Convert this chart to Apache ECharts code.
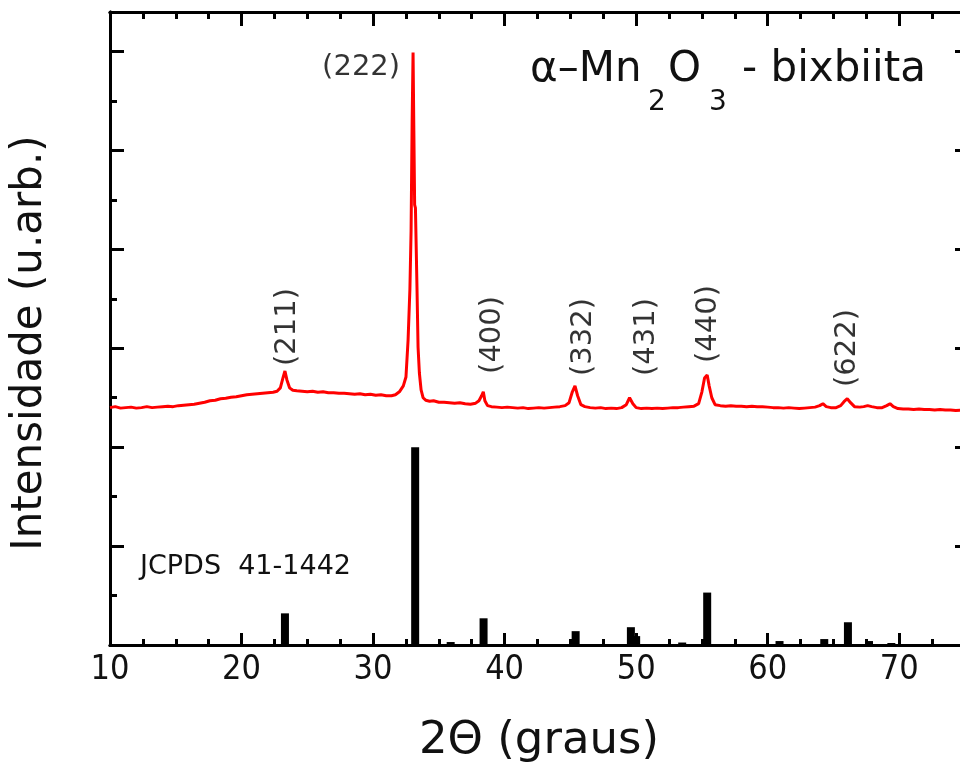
<!DOCTYPE html>
<html><head><meta charset="utf-8">
<script src="https://cdn.jsdelivr.net/npm/echarts@6/dist/echarts.min.js"></script>
<style>html,body{margin:0;padding:0;background:#fff}#c{width:960px;height:765px}</style>
</head><body><div id="c"></div>
<script>
// Measured XRD pattern (2-theta in degrees, intensity in arbitrary units)
const xrdPattern = [
[10.0,2.40],[10.4,2.41],[10.8,2.395],[11.2,2.40],[11.6,2.405],[12.0,2.395],[12.4,2.40],[12.8,2.41],
[13.2,2.40],[13.6,2.405],[14.0,2.41],[14.4,2.415],[14.8,2.41],[15.2,2.42],[15.6,2.425],[16.0,2.43],
[16.4,2.435],[16.8,2.445],[17.2,2.455],[17.6,2.47],[18.0,2.475],[18.4,2.49],[18.8,2.495],[19.2,2.505],
[19.6,2.51],[20.0,2.52],[20.4,2.53],[20.8,2.535],[21.2,2.54],[21.6,2.545],[22.0,2.55],[22.4,2.555],
[22.7,2.565],[22.95,2.60],[23.15,2.70],[23.3,2.77],[23.45,2.68],[23.65,2.60],[23.9,2.575],[24.2,2.57],
[24.6,2.565],[25.0,2.56],[25.4,2.565],[25.8,2.555],[26.2,2.56],[26.6,2.55],[27.0,2.55],[27.4,2.545],
[27.8,2.545],[28.2,2.54],[28.6,2.535],[29.0,2.54],[29.4,2.53],[29.8,2.535],[30.2,2.525],[30.6,2.53],
[31.0,2.52],[31.4,2.52],[31.7,2.53],[32.0,2.56],[32.3,2.62],[32.5,2.71],[32.66,3.08],[32.8,3.6],
[32.89,4.19],[32.97,5.3],[33.04,5.99],[33.1,5.2],[33.16,4.45],[33.22,4.42],[33.28,4.40],[33.34,3.6],
[33.42,3.01],[33.52,2.75],[33.65,2.58],[33.8,2.50],[34.0,2.475],[34.3,2.465],[34.6,2.47],[35.0,2.455],
[35.4,2.455],[35.8,2.45],[36.2,2.445],[36.6,2.45],[37.0,2.44],[37.4,2.435],[37.8,2.445],[38.05,2.47],
[38.25,2.52],[38.38,2.56],[38.5,2.47],[38.7,2.42],[39.0,2.41],[39.4,2.405],[39.8,2.40],[40.2,2.405],
[40.6,2.40],[41.0,2.395],[41.4,2.40],[41.8,2.39],[42.2,2.395],[42.6,2.40],[43.0,2.395],[43.4,2.40],
[43.8,2.405],[44.2,2.41],[44.6,2.42],[44.9,2.45],[45.15,2.56],[45.35,2.62],[45.55,2.52],[45.8,2.43],
[46.1,2.41],[46.5,2.40],[46.9,2.395],[47.3,2.40],[47.7,2.39],[48.1,2.395],[48.5,2.39],[48.9,2.40],
[49.25,2.43],[49.5,2.50],[49.75,2.44],[50.0,2.40],[50.4,2.39],[50.8,2.395],[51.2,2.39],[51.6,2.395],
[52.0,2.39],[52.4,2.395],[52.8,2.40],[53.2,2.40],[53.6,2.405],[54.0,2.41],[54.4,2.415],[54.75,2.44],
[55.0,2.56],[55.2,2.70],[55.4,2.73],[55.55,2.62],[55.75,2.50],[56.0,2.43],[56.4,2.42],[56.8,2.415],
[57.2,2.42],[57.6,2.415],[58.0,2.415],[58.4,2.41],[58.8,2.415],[59.2,2.41],[59.6,2.41],[60.0,2.405],
[60.4,2.40],[60.8,2.40],[61.2,2.395],[61.6,2.40],[62.0,2.395],[62.4,2.39],[62.8,2.395],[63.2,2.40],
[63.6,2.405],[63.95,2.42],[64.2,2.44],[64.45,2.41],[64.8,2.40],[65.2,2.40],[65.55,2.42],[65.8,2.46],
[66.05,2.49],[66.3,2.45],[66.6,2.41],[67.0,2.405],[67.3,2.41],[67.6,2.42],[67.9,2.41],[68.3,2.40],
[68.7,2.40],[69.05,2.42],[69.3,2.44],[69.55,2.41],[69.9,2.39],[70.3,2.385],[70.7,2.385],[71.1,2.38],
[71.5,2.385],[71.9,2.38],[72.3,2.38],[72.7,2.375],[73.1,2.38],[73.5,2.375],[73.9,2.375],[74.3,2.37],
[74.7,2.375],[75.0,2.37]
];

// JCPDS 41-1442 reference lines
const refTheta     = [23.3, 33.2, 35.9, 38.4, 45.4, 49.6, 50.0, 53.5, 55.4, 60.9, 64.3, 66.1, 67.7, 69.4];
const refIntensity = [0.32, 2.00, 0.03, 0.27, 0.14, 0.18, 0.09, 0.025, 0.53, 0.04, 0.06, 0.23, 0.04, 0.02];

// Miller index annotations (anchor in data coordinates)
const hklLabels = ['(211)', '(400)', '(332)', '(431)', '(440)', '(622)'];
const hklTheta  = [23.46, 39.05, 45.97, 50.76, 55.48, 66.05];
const hklY      = [3.215, 3.135, 3.114, 3.114, 3.246, 3.003];
const mainLabel = '(222)';
const mainLabelPos = [29.09, 5.84];

const xMin = 10, xMax = 75, xMajor = 10, xMinor = 2.5;
const yMin = 0, yMax = 6.4, yMajor = 1, yMinor = 0.5;

const chart = echarts.init(document.getElementById('c'), null, {renderer: 'canvas'});
const ink = '#000';
const txt = '#111';
const dv = '"DejaVu Sans", "Liberation Sans", Arial, sans-serif';

function xAx(pos, interval, len, labels) {
  return {
    type: 'value', position: pos, min: xMin, max: xMax, interval: interval,
    splitLine: {show: false},
    axisLine: {show: true, onZero: false, lineStyle: {color: ink, width: 3}},
    axisTick: {show: true, inside: true, length: len, lineStyle: {color: ink, width: 3}},
    axisLabel: labels ? {show: true, margin: 8, fontSize: 34, color: txt,
      fontFamily: '"Liberation Sans Narrow", "DejaVu Sans Condensed", "Liberation Sans", Arial, sans-serif',
      showMaxLabel: false, showMinLabel: true} : {show: false}
  };
}
function yAx(pos, interval, len) {
  return {
    type: 'value', position: pos, min: yMin, max: yMax, interval: interval,
    splitLine: {show: false},
    axisLine: {show: true, onZero: false, lineStyle: {color: ink, width: 3}},
    axisTick: {show: true, inside: true, length: len, lineStyle: {color: ink, width: 3}},
    axisLabel: {show: false}
  };
}

const option = {
  animation: false,
  backgroundColor: '#fff',
  grid: {left: 110, top: 12, right: -5, bottom: 120, containLabel: false, outerBoundsMode: 'none'},
  xAxis: [
    xAx('bottom', xMajor, 12, true),
    xAx('bottom', xMinor, 6, false),
    xAx('top', xMajor, 14, false),
    xAx('top', xMinor, 7, false)
  ],
  yAxis: [
    yAx('left', yMajor, 14),
    yAx('left', yMinor, 7),
    yAx('right', yMajor, 10)
  ],
  series: [
    {
      type: 'bar', xAxisIndex: 0, yAxisIndex: 0,
      data: refTheta.map((t, i) => [t, refIntensity[i]]),
      barWidth: 8, itemStyle: {color: '#000'}, z: 2
    },
    {
      type: 'line', xAxisIndex: 0, yAxisIndex: 0,
      data: xrdPattern, showSymbol: false, symbol: 'none',
      lineStyle: {color: '#ff0000', width: 3}, z: 3
    },
    {
      type: 'scatter', xAxisIndex: 0, yAxisIndex: 0, symbolSize: 1,
      itemStyle: {color: 'rgba(0,0,0,0)'}, silent: true, z: 4,
      data: hklLabels.map((n, i) => ({name: n, value: [hklTheta[i], hklY[i]]})),
      label: {show: true, position: 'inside', rotate: 90, formatter: '{b}',
        fontSize: 29, fontFamily: dv, color: '#000', textBorderWidth: 0}
    },
    {
      type: 'scatter', xAxisIndex: 0, yAxisIndex: 0, symbolSize: 1,
      itemStyle: {color: 'rgba(0,0,0,0)'}, silent: true, z: 4,
      data: [{name: mainLabel, value: mainLabelPos}],
      label: {show: true, position: 'inside', formatter: '{b}',
        fontSize: 29, fontFamily: dv, color: '#000', textBorderWidth: 0}
    }
  ],
  graphic: [
    {type: 'text', x: 530, y: 70, style: {text: 'α–Mn', font: '42px ' + dv, fill: txt, textAlign: 'left', textVerticalAlign: 'middle', align: 'left', verticalAlign: 'middle'}},
    {type: 'text', x: 648, y: 103, style: {text: '2', font: '28px ' + dv, fill: txt, textAlign: 'left', textVerticalAlign: 'middle', align: 'left', verticalAlign: 'middle'}},
    {type: 'text', x: 668, y: 70, style: {text: 'O', font: '42px ' + dv, fill: txt, textAlign: 'left', textVerticalAlign: 'middle', align: 'left', verticalAlign: 'middle'}},
    {type: 'text', x: 709, y: 103, style: {text: '3', font: '28px ' + dv, fill: txt, textAlign: 'left', textVerticalAlign: 'middle', align: 'left', verticalAlign: 'middle'}},
    {type: 'text', x: 742, y: 70, style: {text: '- bixbiita', font: '42px ' + dv, fill: txt, textAlign: 'left', textVerticalAlign: 'middle', align: 'left', verticalAlign: 'middle'}},
    {type: 'text', x: 140, y: 567, style: {text: 'JCPDS  41-1442', font: '27px ' + dv, fill: txt, textAlign: 'left', textVerticalAlign: 'middle', align: 'left', verticalAlign: 'middle'}},
    {type: 'text', x: 539, y: 741, style: {text: '2Θ (graus)', font: '45px ' + dv, fill: txt, textAlign: 'center', textVerticalAlign: 'middle', align: 'center', verticalAlign: 'middle'}},
    {type: 'text', x: 30, y: 343, rotation: Math.PI / 2, style: {text: 'Intensidade (u.arb.)', font: '42px ' + dv, fill: txt, textAlign: 'center', textVerticalAlign: 'middle', align: 'center', verticalAlign: 'middle'}}
  ]
};
chart.setOption(option);
</script>
</body></html>
